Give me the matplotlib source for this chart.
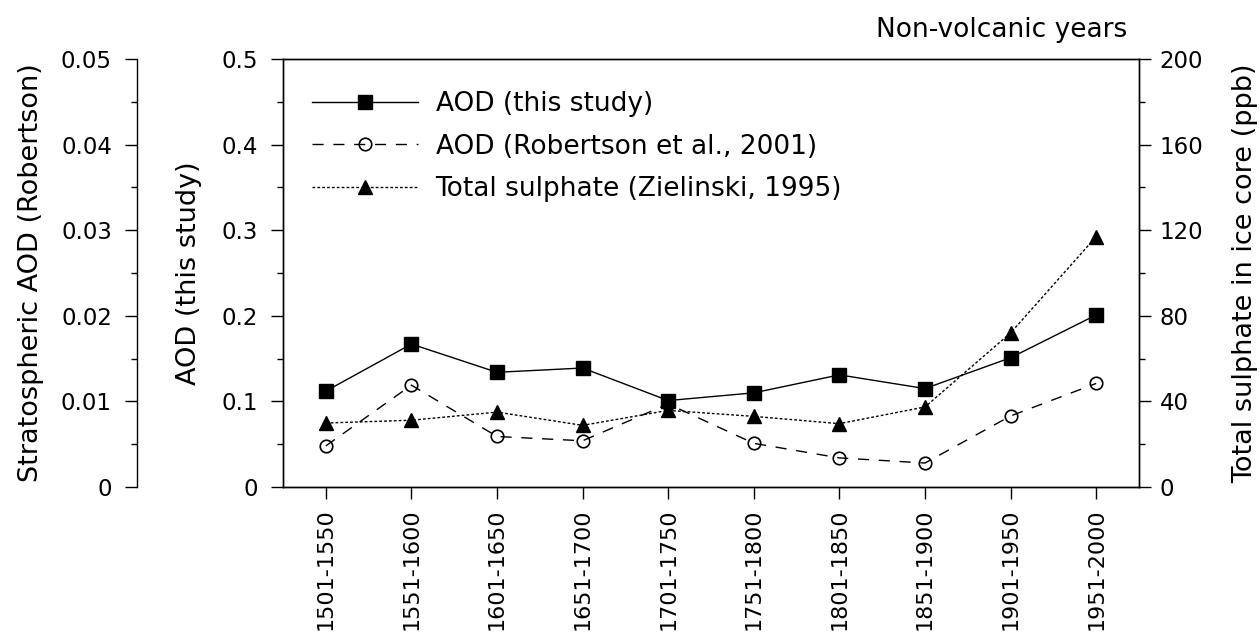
import matplotlib.pyplot as plt
from matplotlib.ticker import MultipleLocator, FuncFormatter

plt.rcParams["font.family"] = ["DejaVu Sans"]

periods = ["1501-1550", "1551-1600", "1601-1650", "1651-1700", "1701-1750",
           "1751-1800", "1801-1850", "1851-1900", "1901-1950", "1951-2000"]
aod_study = [0.112, 0.167, 0.134, 0.139, 0.101, 0.110, 0.131, 0.115, 0.151, 0.201]
aod_robertson = [0.0048, 0.0119, 0.0059, 0.0054, 0.0097, 0.0051, 0.0034, 0.0028,
                 0.0083, 0.0121]
sulphate = [29.9, 31.2, 35.0, 28.8, 35.8, 33.0, 29.6, 37.4, 72.0, 117.0]

TICK_FS = 16.5
LAB_FS = 19.5
LEG_FS = 19
x = list(range(len(periods)))

fig = plt.figure(figsize=(12.6, 6.42), dpi=100)
ax = fig.add_axes([283 / 1260, 1 - 487 / 642, 856 / 1260, 428 / 642])
ax_rob = ax.twinx()
ax_sul = ax.twinx()

# outer left axis for Robertson AOD
ax_rob.spines["left"].set_position(("outward", 146 * 0.72))
ax_rob.spines["left"].set_visible(True)
for s in ["right", "top", "bottom"]:
    ax_rob.spines[s].set_visible(False)
ax_rob.yaxis.set_ticks_position("left")
ax_rob.yaxis.set_label_position("left")

ln1, = ax.plot(x, aod_study, "-", color="black", lw=1, marker="s", ms=10,
               label="AOD (this study)", zorder=5)
ln2, = ax_rob.plot(x, aod_robertson, color="black", lw=1, ls=(0, (8, 7)),
                   marker="o", ms=9, mfc="none", mew=1.2,
                   label="AOD (Robertson et al., 2001)")
ln3, = ax_sul.plot(x, sulphate, color="black", lw=1, ls=(0, (2, 1.5)),
                   marker="^", ms=10, label="Total sulphate (Zielinski, 1995)")

ax.set_xlim(-0.5, 9.5)
ax.set_ylim(0, 0.5)
ax_rob.set_ylim(0, 0.05)
ax_sul.set_ylim(0, 200)

ax.set_xticks(x)
ax.set_xticklabels(periods, rotation=90)
ax.yaxis.set_major_locator(MultipleLocator(0.1))
ax.yaxis.set_minor_locator(MultipleLocator(0.05))
ax.yaxis.set_major_formatter(FuncFormatter(lambda v, p: "0" if v == 0 else f"{v:.1f}"))
ax_rob.yaxis.set_major_locator(MultipleLocator(0.01))
ax_rob.yaxis.set_minor_locator(MultipleLocator(0.005))
ax_rob.yaxis.set_major_formatter(FuncFormatter(lambda v, p: "0" if v == 0 else f"{v:.2f}"))
ax_sul.yaxis.set_major_locator(MultipleLocator(40))
ax_sul.yaxis.set_minor_locator(MultipleLocator(20))

for a in (ax, ax_rob, ax_sul):
    a.tick_params(axis="both", which="major", direction="out", length=8.5,
                  width=1, labelsize=TICK_FS, pad=9.5)
    a.tick_params(axis="both", which="minor", direction="out", length=4.5,
                  width=1)
    for s in a.spines.values():
        s.set_linewidth(1)
ax.tick_params(axis="x", pad=7, labelsize=16)
ax_sul.tick_params(axis="y", pad=6.5)

ax.set_ylabel("AOD (this study)", fontsize=LAB_FS)
ax.yaxis.set_label_coords((202 - 283) / 856, 0.5)
ax_rob.set_ylabel("Stratospheric AOD (Robertson)", fontsize=LAB_FS)
ax_rob.yaxis.set_label_coords((44 - 283) / 856, 0.5)
ax_sul.set_ylabel("Total sulphate in ice core (ppb)", fontsize=LAB_FS)
ax_sul.yaxis.set_label_coords((1232 - 283) / 856, 0.5)

ax.legend(handles=[ln1, ln2, ln3], loc="upper left", frameon=False,
          fontsize=LEG_FS, handlelength=4.0, handletextpad=0.68,
          labelspacing=0.63, borderpad=0, borderaxespad=0,
          bbox_to_anchor=((312 - 283) / 856, (487 - 91) / 428))

fig.text(1127 / 1260, 1 - 30 / 642, "Non-volcanic years", ha="right",
         va="center", fontsize=LEG_FS)

fig.savefig("out.png", dpi=100, facecolor="white")
